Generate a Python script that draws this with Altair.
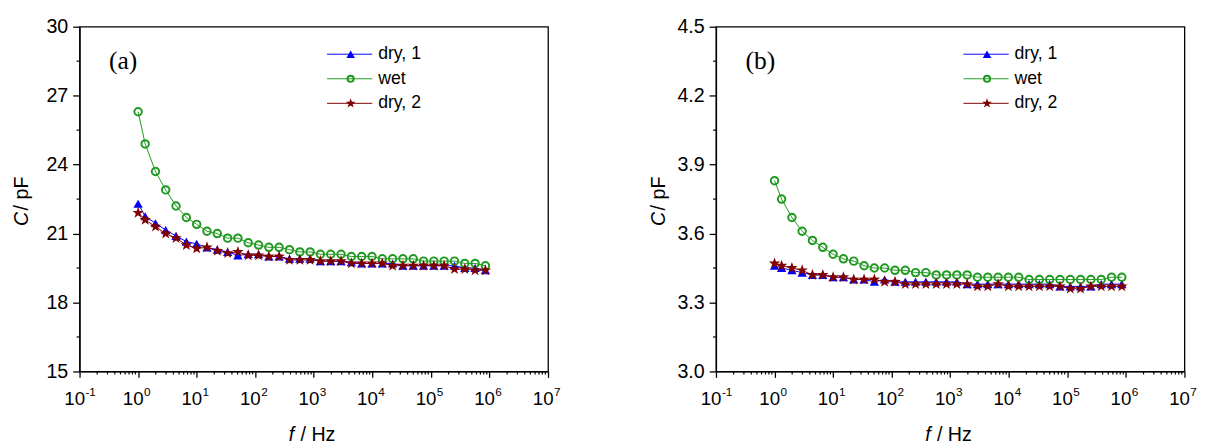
import altair as alt
import pandas as pd

# ---------------- data ----------------
freq = [1, 1.32, 1.98, 2.96, 4.44, 6.67, 10, 15, 22.5, 33.8, 50.6, 75.9,
        114, 171, 256, 384, 577, 865, 1297, 1946, 2919, 4379, 6568, 9853,
        14780, 22170, 33250, 49880, 74820, 112200, 168300, 252500, 378800,
        568200, 852300]

a_dry1 = [22.3, 21.75, 21.45, 21.15, 20.9, 20.65, 20.55, 20.4, 20.3, 20.2,
          20.05, 20.1, 20.1, 20.0, 20.0, 19.9, 19.9, 19.9, 19.8, 19.8, 19.8,
          19.75, 19.7, 19.7, 19.7, 19.7, 19.6, 19.6, 19.6, 19.6, 19.6, 19.6,
          19.5, 19.5, 19.4]
a_wet = [26.3, 24.9, 23.7, 22.9, 22.2, 21.7, 21.4, 21.1, 21.0, 20.8, 20.8,
         20.6, 20.5, 20.4, 20.4, 20.3, 20.2, 20.2, 20.1, 20.1, 20.1, 20.0,
         20.0, 20.0, 19.9, 19.9, 19.9, 19.9, 19.8, 19.8, 19.8, 19.8, 19.7,
         19.7, 19.6]
a_dry2 = [21.9, 21.6, 21.3, 21.0, 20.8, 20.5, 20.35, 20.4, 20.25, 20.15,
          20.2, 20.05, 20.05, 20.0, 20.0, 19.85, 19.85, 19.85, 19.8, 19.8,
          19.8, 19.7, 19.7, 19.7, 19.7, 19.6, 19.6, 19.6, 19.6, 19.6, 19.6,
          19.45, 19.45, 19.4, 19.4]

b_dry1 = [3.46, 3.45, 3.44, 3.43, 3.42, 3.42, 3.41, 3.41, 3.40, 3.40, 3.39,
          3.40, 3.39, 3.39, 3.39, 3.39, 3.39, 3.39, 3.39, 3.38, 3.38, 3.38,
          3.38, 3.38, 3.38, 3.38, 3.38, 3.38, 3.37, 3.37, 3.37, 3.37, 3.38,
          3.38, 3.38]
b_wet = [3.83, 3.75, 3.67, 3.61, 3.57, 3.54, 3.51, 3.49, 3.48, 3.46, 3.45,
         3.45, 3.44, 3.44, 3.43, 3.43, 3.42, 3.42, 3.42, 3.42, 3.41, 3.41,
         3.41, 3.41, 3.41, 3.40, 3.40, 3.40, 3.40, 3.40, 3.40, 3.40, 3.40,
         3.41, 3.41]
b_dry2 = [3.47, 3.46, 3.45, 3.44, 3.42, 3.42, 3.41, 3.41, 3.40, 3.40, 3.40,
          3.39, 3.39, 3.38, 3.38, 3.38, 3.38, 3.38, 3.38, 3.38, 3.37, 3.37,
          3.38, 3.37, 3.37, 3.37, 3.37, 3.37, 3.37, 3.36, 3.36, 3.37, 3.37,
          3.37, 3.37]

series_names = ["dry, 1", "wet", "dry, 2"]
x_major = [0.1, 1, 10, 100, 1000, 10000, 100000, 1000000, 10000000]
x_exp = ["-1", "0", "1", "2", "3", "4", "5", "6", "7"]
a_ymajor = [15, 18, 21, 24, 27, 30]
a_yminor = [16.5, 19.5, 22.5, 25.5, 28.5]
b_ymajor = [3.0, 3.3, 3.6, 3.9, 4.2, 4.5]
b_yminor = [3.15, 3.45, 3.75, 4.05, 4.35]

# ---------------- style ----------------
W, H = 477, 351
FONT = "Liberation Sans"
STAR = ("M0,-1 L0.235,-0.324 L0.951,-0.309 L0.380,0.124 L0.588,0.809 "
        "L0,0.4 L-0.588,0.809 L-0.380,0.124 L-0.951,-0.309 L-0.235,-0.324 Z")
COL = {"dry, 1": "#0000ff", "wet": "#1f9a1f", "dry, 2": "#800000"}
SHAPE = {"dry, 1": "triangle-up", "wet": "circle", "dry, 2": STAR}
FILLED = {"dry, 1": True, "wet": False, "dry, 2": True}
SIZE = {"dry, 1": 90, "wet": 58, "dry, 2": 150}
LSIZE = {"dry, 1": 75, "wet": 40, "dry, 2": 110}
LEG_Y = [28, 53, 78]

x_minor = [k * d for d in [0.1, 1, 10, 100, 1000, 10000, 100000, 1000000]
           for k in range(2, 10)]


def one():
    return alt.Chart(pd.DataFrame({"v": [0]}))


def panel(vals, ydom, ymajor, yminor, yfmt, tag):
    X = alt.X("f:Q",
              scale=alt.Scale(type="log", domain=[0.1, 1e7], nice=False),
              axis=alt.Axis(values=x_major, labels=False, title=None,
                            grid=False, tickSize=6))
    Y = alt.Y("C:Q",
              scale=alt.Scale(domain=ydom, nice=False, zero=False),
              axis=alt.Axis(values=ymajor, format=yfmt, title=None,
                            grid=False, tickSize=7, labelPadding=5,
                            labelFontSize=20))
    layers = []
    layers.append(alt.Chart(pd.DataFrame({"C": yminor}))
                  .mark_rule(color="black", strokeWidth=1.2)
                  .encode(y=Y, x=alt.value(0), x2=alt.value(-3)))
    layers.append(alt.Chart(pd.DataFrame({"f": x_minor}))
                  .mark_rule(color="black", strokeWidth=1.2)
                  .encode(x=X, y=alt.value(H), y2=alt.value(H + 3)))
    for name, v in zip(series_names, vals):
        base = alt.Chart(pd.DataFrame({"f": freq, "C": v}))
        layers.append(base.mark_line(color=COL[name], strokeWidth=1)
                      .encode(x=X, y=Y))
        layers.append(base.mark_point(shape=SHAPE[name], filled=FILLED[name],
                                      size=SIZE[name], color=COL[name],
                                      opacity=1)
                      .encode(x=X, y=Y))
    # x tick labels: "10" with superscript exponent
    lab = alt.Chart(pd.DataFrame({"f": x_major, "e": x_exp}))
    layers.append(lab.mark_text(align="center", baseline="alphabetic", dx=-5,
                                fontSize=19, font=FONT, color="black", text="10")
                  .encode(x=X, y=alt.value(H + 34)))
    layers.append(lab.mark_text(align="left", baseline="alphabetic", dx=6,
                                fontSize=12, font=FONT, color="black")
                  .encode(x=X, y=alt.value(H + 25), text="e:N"))
    # legend
    for name, ly in zip(series_names, LEG_Y):
        layers.append(one().mark_rule(color=COL[name], strokeWidth=1)
                      .encode(x=alt.value(252), x2=alt.value(298),
                              y=alt.value(ly)))
        layers.append(one().mark_point(shape=SHAPE[name], filled=FILLED[name],
                                       size=LSIZE[name], color=COL[name],
                                       opacity=1)
                      .encode(x=alt.value(276), y=alt.value(ly)))
        layers.append(one().mark_text(text=name, align="left",
                                      baseline="middle", fontSize=18,
                                      font=FONT, color="black")
                      .encode(x=alt.value(304), y=alt.value(ly)))
    # panel tag
    layers.append(one().mark_text(text=tag, align="left",
                                  baseline="alphabetic", fontSize=26,
                                  font="Liberation Serif", color="black")
                  .encode(x=alt.value(30), y=alt.value(43)))
    # y title: C / pF
    layers.append(one().mark_text(text="C", fontStyle="italic", angle=270,
                                  align="left", baseline="alphabetic",
                                  fontSize=20, font=FONT, color="black")
                  .encode(x=alt.value(-52), y=alt.value(203)))
    layers.append(one().mark_text(text="/ pF", angle=270,
                                  align="left", baseline="alphabetic",
                                  fontSize=20, font=FONT, color="black")
                  .encode(x=alt.value(-52), y=alt.value(187)))
    # x title: f / Hz
    layers.append(one().mark_text(text="f", fontStyle="italic",
                                  align="left", baseline="alphabetic",
                                  fontSize=20, font=FONT, color="black")
                  .encode(x=alt.value(213), y=alt.value(H + 71)))
    layers.append(one().mark_text(text="/ Hz",
                                  align="left", baseline="alphabetic",
                                  fontSize=20, font=FONT, color="black")
                  .encode(x=alt.value(225), y=alt.value(H + 71)))
    return alt.layer(*layers).properties(width=W, height=H)


pa = panel([a_dry1, a_wet, a_dry2], [15, 30], a_ymajor, a_yminor, ".0f", "(a)")
pb = panel([b_dry1, b_wet, b_dry2], [3.0, 4.5], b_ymajor, b_yminor, ".1f", "(b)")

chart = (alt.hconcat(pa, pb, spacing=88)
         .properties(padding=12)
         .configure_view(stroke="black", strokeWidth=1.3)
         .configure_axis(labelFont=FONT, labelColor="black",
                         domainColor="black", tickColor="black",
                         domainWidth=1.3, tickWidth=1.3))

chart.save("out.html", embed_options={"renderer": "svg", "actions": False})
